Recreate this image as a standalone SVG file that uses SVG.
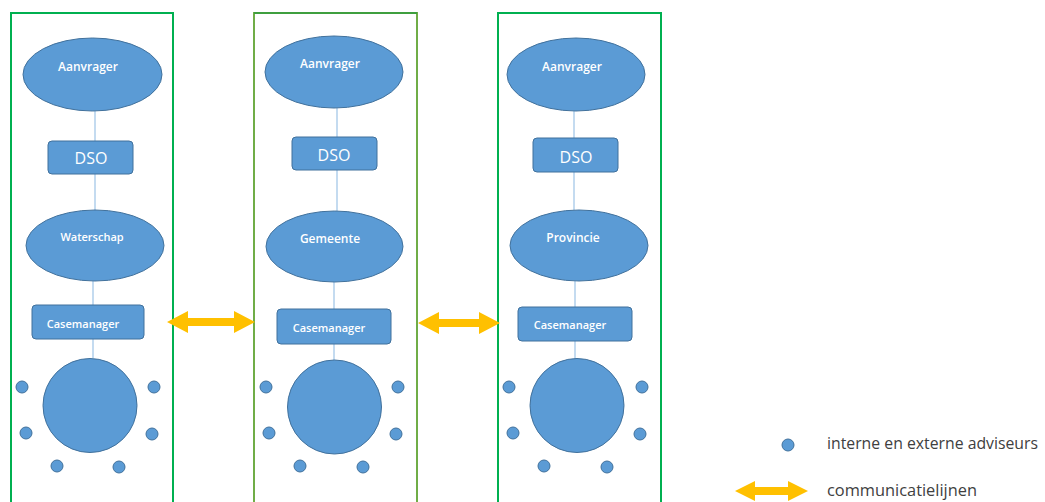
<svg xmlns="http://www.w3.org/2000/svg" width="1045" height="502" viewBox="0 0 1045 502">
<style>
.panel{fill:none;stroke:#00b050;stroke-width:2}
.panel2{fill:none;stroke:#70ad47;stroke-width:2}
.shape{fill:#5b9bd5;stroke:#41719c;stroke-width:1}
.link{stroke:#9dc3e6;stroke-width:1.2;fill:none}
.arrow{fill:#ffc000;stroke:none}
.lbl{fill:#ffffff;font-family:"Open Sans","Liberation Sans",sans-serif;font-weight:600;text-anchor:middle;dominant-baseline:central}
.big{font-size:16px;font-weight:400}
.mid{font-size:12px}
.sm{font-size:11px}
.leg{fill:#404040;font-family:"Open Sans","Liberation Sans",sans-serif;font-size:15.5px;dominant-baseline:central}
</style>
<rect width="1045" height="502" fill="#ffffff"/>
<g id="panels">
<rect id="panel-waterschap" class="panel" x="11" y="13" width="162" height="500"/>
<rect id="panel-gemeente" class="panel2" x="254" y="13" width="163" height="500"/>
<line x1="254" y1="13" x2="417" y2="13" stroke="#3f9f3f" stroke-width="2"/>
<rect id="panel-provincie" class="panel" x="498" y="13" width="163" height="500"/>
</g>
<g id="connectors">
<line class="link" x1="95" y1="111" x2="95" y2="141"/>
<line class="link" x1="95" y1="174" x2="95" y2="210"/>
<line class="link" x1="93" y1="281" x2="93" y2="305"/>
<line class="link" x1="93" y1="339" x2="93" y2="358"/>
<line class="link" x1="337" y1="108" x2="337" y2="137"/>
<line class="link" x1="337" y1="170" x2="337" y2="211"/>
<line class="link" x1="334" y1="282" x2="334" y2="309"/>
<line class="link" x1="334" y1="344" x2="334" y2="361"/>
<line class="link" x1="574" y1="111" x2="574" y2="138"/>
<line class="link" x1="574" y1="172" x2="574" y2="210"/>
<line class="link" x1="575" y1="281" x2="575" y2="307"/>
<line class="link" x1="575" y1="341" x2="575" y2="359"/>
<path class="arrow" d="M167,322 L188,311 L188,318 L234,318 L234,311 L255,322 L234,333 L234,326 L188,326 L188,333 Z"/>
<path class="arrow" d="M418,323 L439,312 L439,319 L479,319 L479,312 L500,323 L479,334 L479,327 L439,327 L439,334 Z"/>
</g>
<g id="col1">
<g id="n-aanvrager1"><ellipse class="shape" cx="92.5" cy="74.5" rx="69.5" ry="36.5"/><text class="lbl mid" x="88" y="66">Aanvrager</text></g>
<g id="n-dso1"><rect class="shape" x="48" y="141" width="85" height="33" rx="4"/><text class="lbl big" x="91" y="158">DSO</text></g>
<g id="n-waterschap"><ellipse class="shape" cx="95" cy="245.5" rx="69" ry="35.5"/><text class="lbl sm" x="92" y="236">Waterschap</text></g>
<g id="n-case1"><rect class="shape" x="32" y="305" width="112" height="34" rx="4"/><text class="lbl sm" x="83" y="323">Casemanager</text></g>
<g id="n-table1"><circle class="shape" cx="90" cy="405.5" r="47"/></g>
<g id="n-adv1">
<circle class="shape" cx="22" cy="387" r="6"/><circle class="shape" cx="154" cy="387" r="6"/>
<circle class="shape" cx="26" cy="433" r="6"/><circle class="shape" cx="152" cy="434" r="6"/>
<circle class="shape" cx="57" cy="466" r="6"/><circle class="shape" cx="119" cy="467" r="6"/>
</g>
</g>
<g id="col2">
<g id="n-aanvrager2"><ellipse class="shape" cx="334" cy="72" rx="69" ry="36"/><text class="lbl mid" x="330" y="63">Aanvrager</text></g>
<g id="n-dso2"><rect class="shape" x="292" y="137" width="85" height="33" rx="4"/><text class="lbl big" x="334" y="155">DSO</text></g>
<g id="n-gemeente"><ellipse class="shape" cx="334.5" cy="246.5" rx="68.5" ry="35.5"/><text class="lbl mid" x="330" y="238">Gemeente</text></g>
<g id="n-case2"><rect class="shape" x="277" y="309" width="114" height="35" rx="4"/><text class="lbl sm" x="329" y="327">Casemanager</text></g>
<g id="n-table2"><circle class="shape" cx="334.5" cy="407" r="47"/></g>
<g id="n-adv2">
<circle class="shape" cx="266" cy="387" r="6"/><circle class="shape" cx="398" cy="387" r="6"/>
<circle class="shape" cx="269" cy="433" r="6"/><circle class="shape" cx="396" cy="434" r="6"/>
<circle class="shape" cx="300" cy="466" r="6"/><circle class="shape" cx="363" cy="467" r="6"/>
</g>
</g>
<g id="col3">
<g id="n-aanvrager3"><ellipse class="shape" cx="576" cy="74.5" rx="69" ry="36.5"/><text class="lbl mid" x="572" y="66">Aanvrager</text></g>
<g id="n-dso3"><rect class="shape" x="533" y="138" width="85" height="34" rx="4"/><text class="lbl big" x="576" y="157">DSO</text></g>
<g id="n-provincie"><ellipse class="shape" cx="579" cy="245.5" rx="69" ry="35.5"/><text class="lbl mid" x="573" y="237">Provincie</text></g>
<g id="n-case3"><rect class="shape" x="518" y="307" width="114" height="34" rx="4"/><text class="lbl sm" x="570" y="324">Casemanager</text></g>
<g id="n-table3"><circle class="shape" cx="577" cy="405.5" r="47"/></g>
<g id="n-adv3">
<circle class="shape" cx="509" cy="387" r="6"/><circle class="shape" cx="642" cy="387" r="6"/>
<circle class="shape" cx="513" cy="433" r="6"/><circle class="shape" cx="640" cy="434" r="6"/>
<circle class="shape" cx="544" cy="466" r="6"/><circle class="shape" cx="607" cy="467" r="6"/>
</g>
</g>
<g id="legend">
<circle class="shape" cx="788" cy="445" r="6"/>
<text class="leg" x="827" y="443" textLength="211" lengthAdjust="spacingAndGlyphs">interne en externe adviseurs</text>
<path class="arrow" d="M735,491 L755,481 L755,487 L788,487 L788,481 L808,491 L788,501 L788,495 L755,495 L755,501 Z"/>
<text class="leg" x="827" y="490" textLength="150" lengthAdjust="spacingAndGlyphs">communicatielijnen</text>
</g>
</svg>
